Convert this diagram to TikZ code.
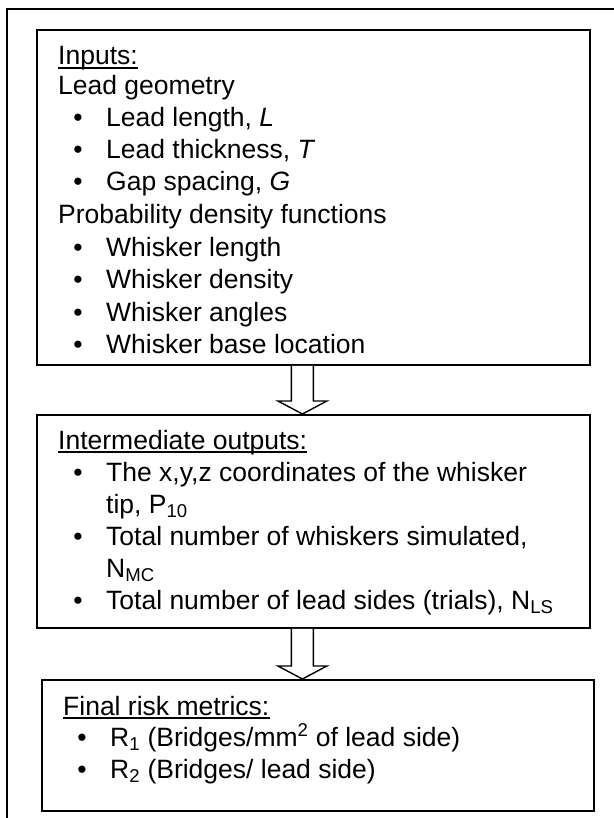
\documentclass[tikz,border=0pt]{standalone}
\usepackage{fontspec}
\setmainfont{Liberation Sans}
\usetikzlibrary{calc}
\tikzset{
  frameline/.style={line width=1.8pt, draw=black},
  box/.style={draw=black, line width=1.8pt, anchor=north west, inner sep=0pt, fill=none},
  txt/.style={anchor=base west, inner sep=0pt, font=\fontsize{26.5pt}{32pt}\selectfont},
  bul/.style={anchor=base, inner sep=0pt, font=\fontsize{26.5pt}{32pt}\selectfont},
  uline/.style={line width=1.3pt},
  blockarrow/.style={draw=black, fill=white, line width=1.4pt, line join=miter},
}
\newcommand{\mkblockarrow}[2]{%
  \draw[blockarrow] ($(#1)+(-11,0)$) -- ($(#2)+(-11,-13)$) -- ($(#2)+(-24.5,-13)$) --
    (#2) -- ($(#2)+(24.5,-13)$) -- ($(#2)+(11,-13)$) -- ($(#1)+(11,0)$);}
\begin{document}
\begin{tikzpicture}[x=1pt, y=-1pt]
\useasboundingbox (0,0) rectangle (613,818);
\fill[white] (0,0) rectangle (613,818);
% outer frame (right and bottom sides lie outside the picture)
\draw[frameline] (7,830) -- (7,9) -- (625,9);

% boxes
\node[box, minimum width=553pt, minimum height=335pt] (b1) at (36,29) {};
\node[box, minimum width=553pt, minimum height=213pt] (b2) at (36,414) {};
\node[box, minimum width=552pt, minimum height=131pt] (b3) at (41,679) {};

% box 1 text
\node[txt] (t1) at (58,65) {Inputs:};
\draw[uline] ($(t1.base west)+(0,3)$) -- ($(t1.base east)+(0,3)$);
\node[txt] (t2) at (58,95) {Lead geometry};
\node[bul] (u3) at (78,127) {•};
\node[txt] (t3) at (106,127) {Lead length, \textit{L}};
\node[bul] (u4) at (78,159) {•};
\node[txt] (t4) at (106,159) {Lead thickness, \textit{T}};
\node[bul] (u5) at (78,191) {•};
\node[txt] (t5) at (106,191) {Gap spacing, \textit{G}};
\node[txt] (t6) at (58,223) {Probability density functions};
\node[bul] (u7) at (78,256) {•};
\node[txt] (t7) at (106,256) {Whisker length};
\node[bul] (u8) at (78,288) {•};
\node[txt] (t8) at (106,288) {Whisker density};
\node[bul] (u9) at (78,321) {•};
\node[txt] (t9) at (106,321) {Whisker angles};
\node[bul] (u10) at (78,353) {•};
\node[txt] (t10) at (106,353) {Whisker base location};

% box 2 text
\node[txt] (s1) at (58,449) {Intermediate outputs:};
\draw[uline] ($(s1.base west)+(0,3)$) -- ($(s1.base east)+(0,3)$);
\node[bul] (v2) at (78,481) {•};
\node[txt] (s2) at (106,481) {The x,y,z coordinates of the whisker};
\node[txt] (s3) at (106,513) {tip, P\textsubscript{10}};
\node[bul] (v4) at (78,545) {•};
\node[txt] (s4) at (106,545) {Total number of whiskers simulated,};
\node[txt] (s5) at (106,577) {N\textsubscript{MC}};
\node[bul] (v6) at (78,609) {•};
\node[txt] (s6) at (106,609) {Total number of lead sides (trials), N\textsubscript{LS}};

% box 3 text
\node[txt] (r1) at (63,715) {Final risk metrics:};
\draw[uline] ($(r1.base west)+(0,3)$) -- ($(r1.base east)+(0,3)$);
\node[bul] (w2) at (82,746) {•};
\node[txt] (r2) at (110,746) {R\textsubscript{1} (Bridges/mm\textsuperscript{2} of lead side)};
\node[bul] (w3) at (82,778) {•};
\node[txt] (r3) at (110,778) {R\textsubscript{2} (Bridges/ lead side)};

% block arrows
\coordinate (a1s) at ($(b1.south)+(-11,0)$);
\coordinate (a1e) at ($(b2.north)+(-11,0)$);
\coordinate (a2s) at ($(b2.south)+(-11,0)$);
\coordinate (a2e) at ($(b3.north)+(-15.5,0)$);
\mkblockarrow{a1s}{a1e}
\mkblockarrow{a2s}{a2e}
\end{tikzpicture}
\end{document}
